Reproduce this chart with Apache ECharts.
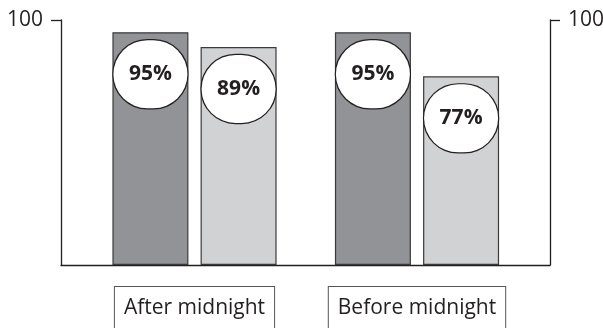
<!DOCTYPE html>
<html>
<head>
<meta charset="utf-8">
<script src="https://cdn.jsdelivr.net/npm/echarts@6/dist/echarts.min.js"></script>
<style>
  html, body { margin: 0; padding: 0; background: #fff; }
  #chart { width: 603px; height: 328px; }
</style>
</head>
<body>
<div id="chart"></div>
<script>
// Share of each group, by timing
const categories = ['After midnight', 'Before midnight'];
const seriesA = [95, 95];   // dark bars
const seriesB = [89, 77];   // light bars
const axisMax = 100;
const tickValues = [100];

const ink = '#231f20';
const font = '"Open Sans", "Noto Sans", sans-serif';

const ellipseLabel = {
  show: true,
  position: 'insideTop',
  distance: 8,
  formatter: '{c}%',
  width: 74,
  height: 68,
  lineHeight: 68,
  align: 'center',
  verticalAlign: 'top',
  backgroundColor: '#ffffff',
  borderColor: ink,
  borderWidth: 1.2,
  borderRadius: 37,
  color: ink,
  fontFamily: font,
  fontWeight: 'bold',
  fontSize: 21
};

const chart = echarts.init(document.getElementById('chart'), null, { renderer: 'canvas' });

chart.setOption({
  animation: false,
  backgroundColor: '#ffffff',
  grid: [
    // frame: both value axes and the base line
    { left: 61, right: 53, top: 20, bottom: 63, outerBoundsMode: 'none', containLabel: false },
    // bars
    { left: 83.25, right: 74.75, top: 20, bottom: 63, outerBoundsMode: 'none', containLabel: false }
  ],
  xAxis: [
    {
      gridIndex: 0, type: 'category', data: [''],
      axisLine: { show: true, lineStyle: { color: ink, width: 1.3 } },
      axisTick: { show: false }, axisLabel: { show: false }
    },
    {
      gridIndex: 1, type: 'category', data: categories,
      axisLine: { show: false }, axisTick: { show: false },
      axisLabel: {
        margin: 22,
        color: ink,
        fontFamily: font,
        fontSize: 21,
        lineHeight: 24,
        borderColor: '#555',
        borderWidth: 1,
        padding: [9, 9, 24, 9],
        backgroundColor: '#fff'
      }
    }
  ],
  yAxis: [
    {
      gridIndex: 0, type: 'value', position: 'left', min: 0, max: axisMax,
      axisLine: { show: true, lineStyle: { color: ink, width: 1.3 } },
      axisTick: { show: true, length: 10, customValues: tickValues, lineStyle: { color: ink, width: 1.3 } },
      axisLabel: { customValues: tickValues, margin: 18, color: ink, fontFamily: font, fontSize: 21 },
      splitLine: { show: false }
    },
    {
      gridIndex: 0, type: 'value', position: 'right', min: 0, max: axisMax,
      axisLine: { show: true, lineStyle: { color: ink, width: 1.3 } },
      axisTick: { show: true, length: 10, customValues: tickValues, lineStyle: { color: ink, width: 1.3 } },
      axisLabel: { customValues: tickValues, margin: 18, color: ink, fontFamily: font, fontSize: 21 },
      splitLine: { show: false }
    },
    {
      gridIndex: 1, type: 'value', min: 0, max: axisMax, show: false
    }
  ],
  series: [
    {
      type: 'bar', xAxisIndex: 1, yAxisIndex: 2,
      data: seriesA, barWidth: 76, barGap: '16%',
      itemStyle: { color: '#929397', borderColor: '#3a3a3a', borderWidth: 1.2 },
      label: ellipseLabel
    },
    {
      type: 'bar', xAxisIndex: 1, yAxisIndex: 2,
      data: seriesB, barWidth: 76, barGap: '16%',
      itemStyle: { color: '#d1d2d4', borderColor: '#3a3a3a', borderWidth: 1.2 },
      label: ellipseLabel
    }
  ]
});
</script>
</body>
</html>
